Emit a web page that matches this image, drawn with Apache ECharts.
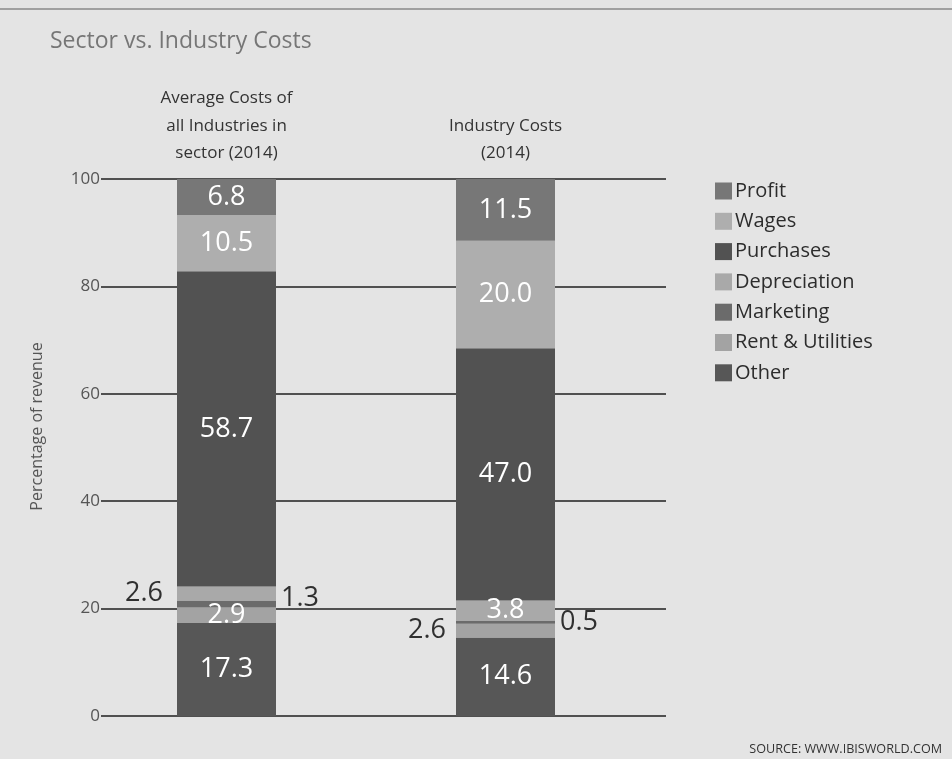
<!DOCTYPE html>
<html>
<head>
<meta charset="utf-8">
<title>Sector vs. Industry Costs</title>
<script src="https://cdn.jsdelivr.net/npm/echarts@6/dist/echarts.min.js"></script>
<style>
  html, body { margin: 0; padding: 0; background: #e4e4e4; }
  #chart { width: 952px; height: 759px; }
</style>
</head>
<body>
<div id="chart"></div>
<script>
// Cost breakdown, percentage of revenue (2014)
const categories = ['Average Costs of\nall Industries in\nsector (2014)', 'Industry Costs\n(2014)'];

// Stacked bottom to top
const seriesNames = ['Other', 'Rent & Utilities', 'Marketing', 'Depreciation', 'Purchases', 'Wages', 'Profit'];
const other        = [17.3, 14.6];
const rentUtil     = [2.9, 2.6];
const marketing    = [1.3, 0.5];
const depreciation = [2.6, 3.8];
const purchases    = [58.7, 47.0];
const wages        = [10.5, 20.0];
const profit       = [6.8, 11.5];

const legendOrder = ['Profit', 'Wages', 'Purchases', 'Depreciation', 'Marketing', 'Rent & Utilities', 'Other'];
const yTicks = [0, 20, 40, 60, 80, 100];

const seriesValues = [other, rentUtil, marketing, depreciation, purchases, wages, profit];
const colors = ['#575757', '#a3a3a3', '#6b6b6b', '#a9a9a9', '#525252', '#aeaeae', '#777777'];

// Thin slices get their value written beside the bar instead of inside it
const outsideLabels = {
  'Depreciation': [{ position: 'left', distance: 14 }, null],
  'Marketing': [{ position: 'right', distance: 5, offset: [0, -6] }, { position: 'right', distance: 5 }],
  'Rent & Utilities': [null, { position: 'left', distance: 10 }]
};

const FONT = '"Open Sans", "Noto Sans", sans-serif';
const TOP = 179, BOTTOM = 43;

const series = seriesNames.map((name, i) => ({
  name: name,
  type: 'bar',
  stack: 'costs',
  xAxisIndex: 0,
  yAxisIndex: 0,
  barWidth: 99,
  itemStyle: { color: colors[i] },
  label: {
    show: true,
    position: 'inside',
    color: '#ffffff',
    fontFamily: FONT,
    fontSize: 27,
    fontWeight: 500,
    formatter: p => Number(p.value).toFixed(1)
  },
  emphasis: { disabled: true },
  data: seriesValues[i].map((v, j) => {
    const item = { value: v };
    const o = outsideLabels[name] && outsideLabels[name][j];
    if (o) {
      item.label = Object.assign({ color: '#303030', fontSize: 27 }, o);
    }
    return item;
  })
}));

const chart = echarts.init(document.getElementById('chart'));
chart.setOption({
  backgroundColor: '#e4e4e4',
  animation: false,
  title: {
    text: 'Sector vs. Industry Costs',
    left: 45,
    top: 25,
    textStyle: { fontFamily: FONT, fontSize: 23, fontWeight: 'normal', color: '#767676' }
  },
  legend: {
    orient: 'vertical',
    left: 710,
    top: 176,
    itemWidth: 17,
    itemHeight: 17,
    itemGap: 10.3,
    icon: 'rect',
    data: legendOrder,
    selectedMode: false,
    textStyle: { fontFamily: FONT, fontSize: 20, fontWeight: 500, lineHeight: 20, color: '#2c2c2c', padding: [0, 0, 0, -2] }
  },
  grid: [
    // bars
    { left: 87, right: 307, top: TOP, bottom: BOTTOM },
    // value scale and gridlines
    { left: 101, right: 286, top: TOP, bottom: BOTTOM }
  ],
  xAxis: [
    {
      type: 'category',
      gridIndex: 0,
      position: 'top',
      data: categories,
      axisLine: { show: false },
      axisTick: { show: false },
      splitLine: { show: false },
      axisLabel: {
        fontFamily: FONT,
        fontSize: 17,
        fontWeight: 500,
        lineHeight: 27.5,
        color: '#333333',
        margin: 12,
        interval: 0
      }
    },
    {
      type: 'value',
      gridIndex: 1,
      show: false
    }
  ],
  yAxis: [
    {
      type: 'value',
      gridIndex: 0,
      min: 0,
      max: 100,
      show: false
    },
    {
      type: 'value',
      gridIndex: 1,
      min: 0,
      max: 100,
      interval: 20,
      name: 'Percentage of revenue',
      nameLocation: 'middle',
      nameRotate: 90,
      nameGap: 56,
      nameTextStyle: { fontFamily: FONT, fontSize: 16, color: '#555555', padding: [0, 0, 0, 42] },
      axisLine: { show: false },
      axisTick: { show: false },
      axisLabel: {
        customValues: yTicks,
        fontFamily: FONT,
        fontSize: 17,
        color: '#555555',
        margin: 1
      },
      splitLine: { lineStyle: { color: '#505050', width: 2 } }
    }
  ],
  graphic: [
    {
      type: 'line',
      shape: { x1: 0, y1: 9, x2: 952, y2: 9 },
      style: { stroke: '#8a8a8a', lineWidth: 1.5 },
      silent: true
    },
    {
      type: 'text',
      right: 10,
      bottom: 3,
      style: {
        text: 'SOURCE: WWW.IBISWORLD.COM',
        fontFamily: FONT,
        fontSize: 12.6,
        fill: '#333333'
      },
      silent: true
    }
  ],
  series: series
});
</script>
</body>
</html>
